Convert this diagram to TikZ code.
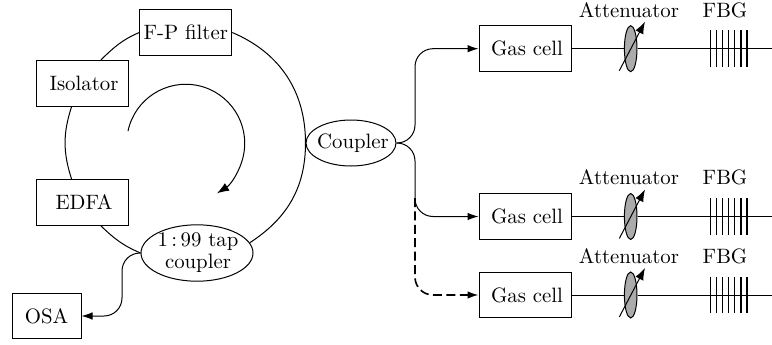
\documentclass[tikz,border=0pt]{standalone}
\usepackage{tikz}
\usetikzlibrary{arrows.meta,calc,shapes.geometric}

\begin{document}
\begin{tikzpicture}[x=0.5pt,y=0.5pt,>={Latex[length=5.5pt,width=3.8pt]},line width=0.5pt,
    every node/.style={font=\fontsize{10.4}{11}\selectfont},
    device/.style={draw, rectangle, minimum width=46pt, minimum height=22.8pt, inner sep=0pt},
    splitter/.style={draw, ellipse, inner sep=0pt},
    atten/.style={draw, ellipse, fill=black!33, inner sep=0pt, minimum width=6.3pt, minimum height=23pt},
    fiber/.style={rounded corners=9pt},
    bigtip/.style={-{Latex[length=6pt,width=4.4pt]}},
    tick/.style={line width=0.6pt}]
\useasboundingbox (0,0) rectangle (772,344);

% Ring laser
\node[device] (fp) at (185.75,311.5) {F-P filter};
\node[device] (iso) at (82,260.8) {\hspace*{2pt}Isolator};
\node[device] (edfa) at (82,141.5) {\hspace*{2pt}EDFA};
\node[splitter, minimum width=56pt, minimum height=28pt, align=center] (tap) at (197,91) {\hspace*{1pt}\makebox[0pt]{1\,:\,99 tap}\\\hspace*{1pt}\makebox[0pt]{coupler}};
\node[splitter, minimum width=45pt, minimum height=23pt] (coupler) at (351,201) {\hspace*{2pt}\makebox[0pt]{Coupler}};
\node[device, minimum width=34.5pt] (osa) at (46.5,28) {OSA};

\draw (fp.east) to[out=-23, in=90] (coupler.west);
\draw (coupler.west) to[out=-90, in=33] (tap.11);
\draw (fp.west) to[out=-157, in=44] (iso.51);
\draw (iso.246) to[out=-108, in=108] (edfa.114);
\draw (edfa.-51) to[out=-44, in=157] (tap.west);

% Direction of circulation
\coordinate (ringstart) at (128,213);
\draw[bigtip] (ringstart) arc[start angle=168, end angle=-58, radius=29.5pt];

% Output to the analyser
\coordinate (osaturn) at (122,28);
\draw[->, fiber] (tap.west) -| (osaturn) -- (osa.east);

% Gas cells
\node[device] (gas1) at (525,295.3) {\hspace*{2pt}Gas cell};
\node[device] (gas2) at (525,127.5) {\hspace*{2pt}Gas cell};
\node[device] (gas3) at (525,49) {\hspace*{2pt}Gas cell};

\coordinate (split) at (415,201);
\coordinate (dashstart) at (415,146);
\draw[->, fiber] (coupler.east) -- (split) |- (gas1.west);
\draw[->, fiber] (coupler.east) -- (split) |- (gas2.west);
\draw[->, fiber, line width=0.8pt, dash pattern=on 4.5pt off 2.2pt] (dashstart) |- (gas3.west);

% Attenuators
\node[atten] (att1) at (630.7,295.3) {};
\node[atten] (att2) at (630.7,127.5) {};
\node[atten] (att3) at (630.7,49) {};
\node (attlabel1) at (629,334) {Attenuator};
\node (attlabel2) at (629,167) {Attenuator};
\node (attlabel3) at (629,88) {Attenuator};

\draw (gas1.east) -- (att1.west);
\draw (gas2.east) -- (att2.west);
\draw (gas3.east) -- (att3.west);

\draw[bigtip] ($(att1)+(-11.4,-22)$) -- ($(att1)+(14.3,27)$);
\draw[bigtip] ($(att2)+(-11.4,-22)$) -- ($(att2)+(14.3,27)$);
\draw[bigtip] ($(att3)+(-11.4,-22)$) -- ($(att3)+(14.3,27)$);

% Gratings
\coordinate (end1) at (772,295.3);
\coordinate (end2) at (772,127.5);
\coordinate (end3) at (772,49);
\draw (att1.east) -- (end1);
\draw (att2.east) -- (end2);
\draw (att3.east) -- (end3);

\node (fbglabel1) at (725,334) {FBG};
\node (fbglabel2) at (725,167) {FBG};
\node (fbglabel3) at (725,88) {FBG};

\foreach \i in {0,...,6} {
  \draw[tick] ($(710.4,295.3)+(\i*6.1,-18.3)$) -- ++(0,36.6);
  \draw[tick] ($(710.4,127.5)+(\i*6.1,-18.3)$) -- ++(0,36.6);
  \draw[tick] ($(710.4,49)+(\i*6.1,-18.3)$) -- ++(0,36.6);
}
\end{tikzpicture}
\end{document}
